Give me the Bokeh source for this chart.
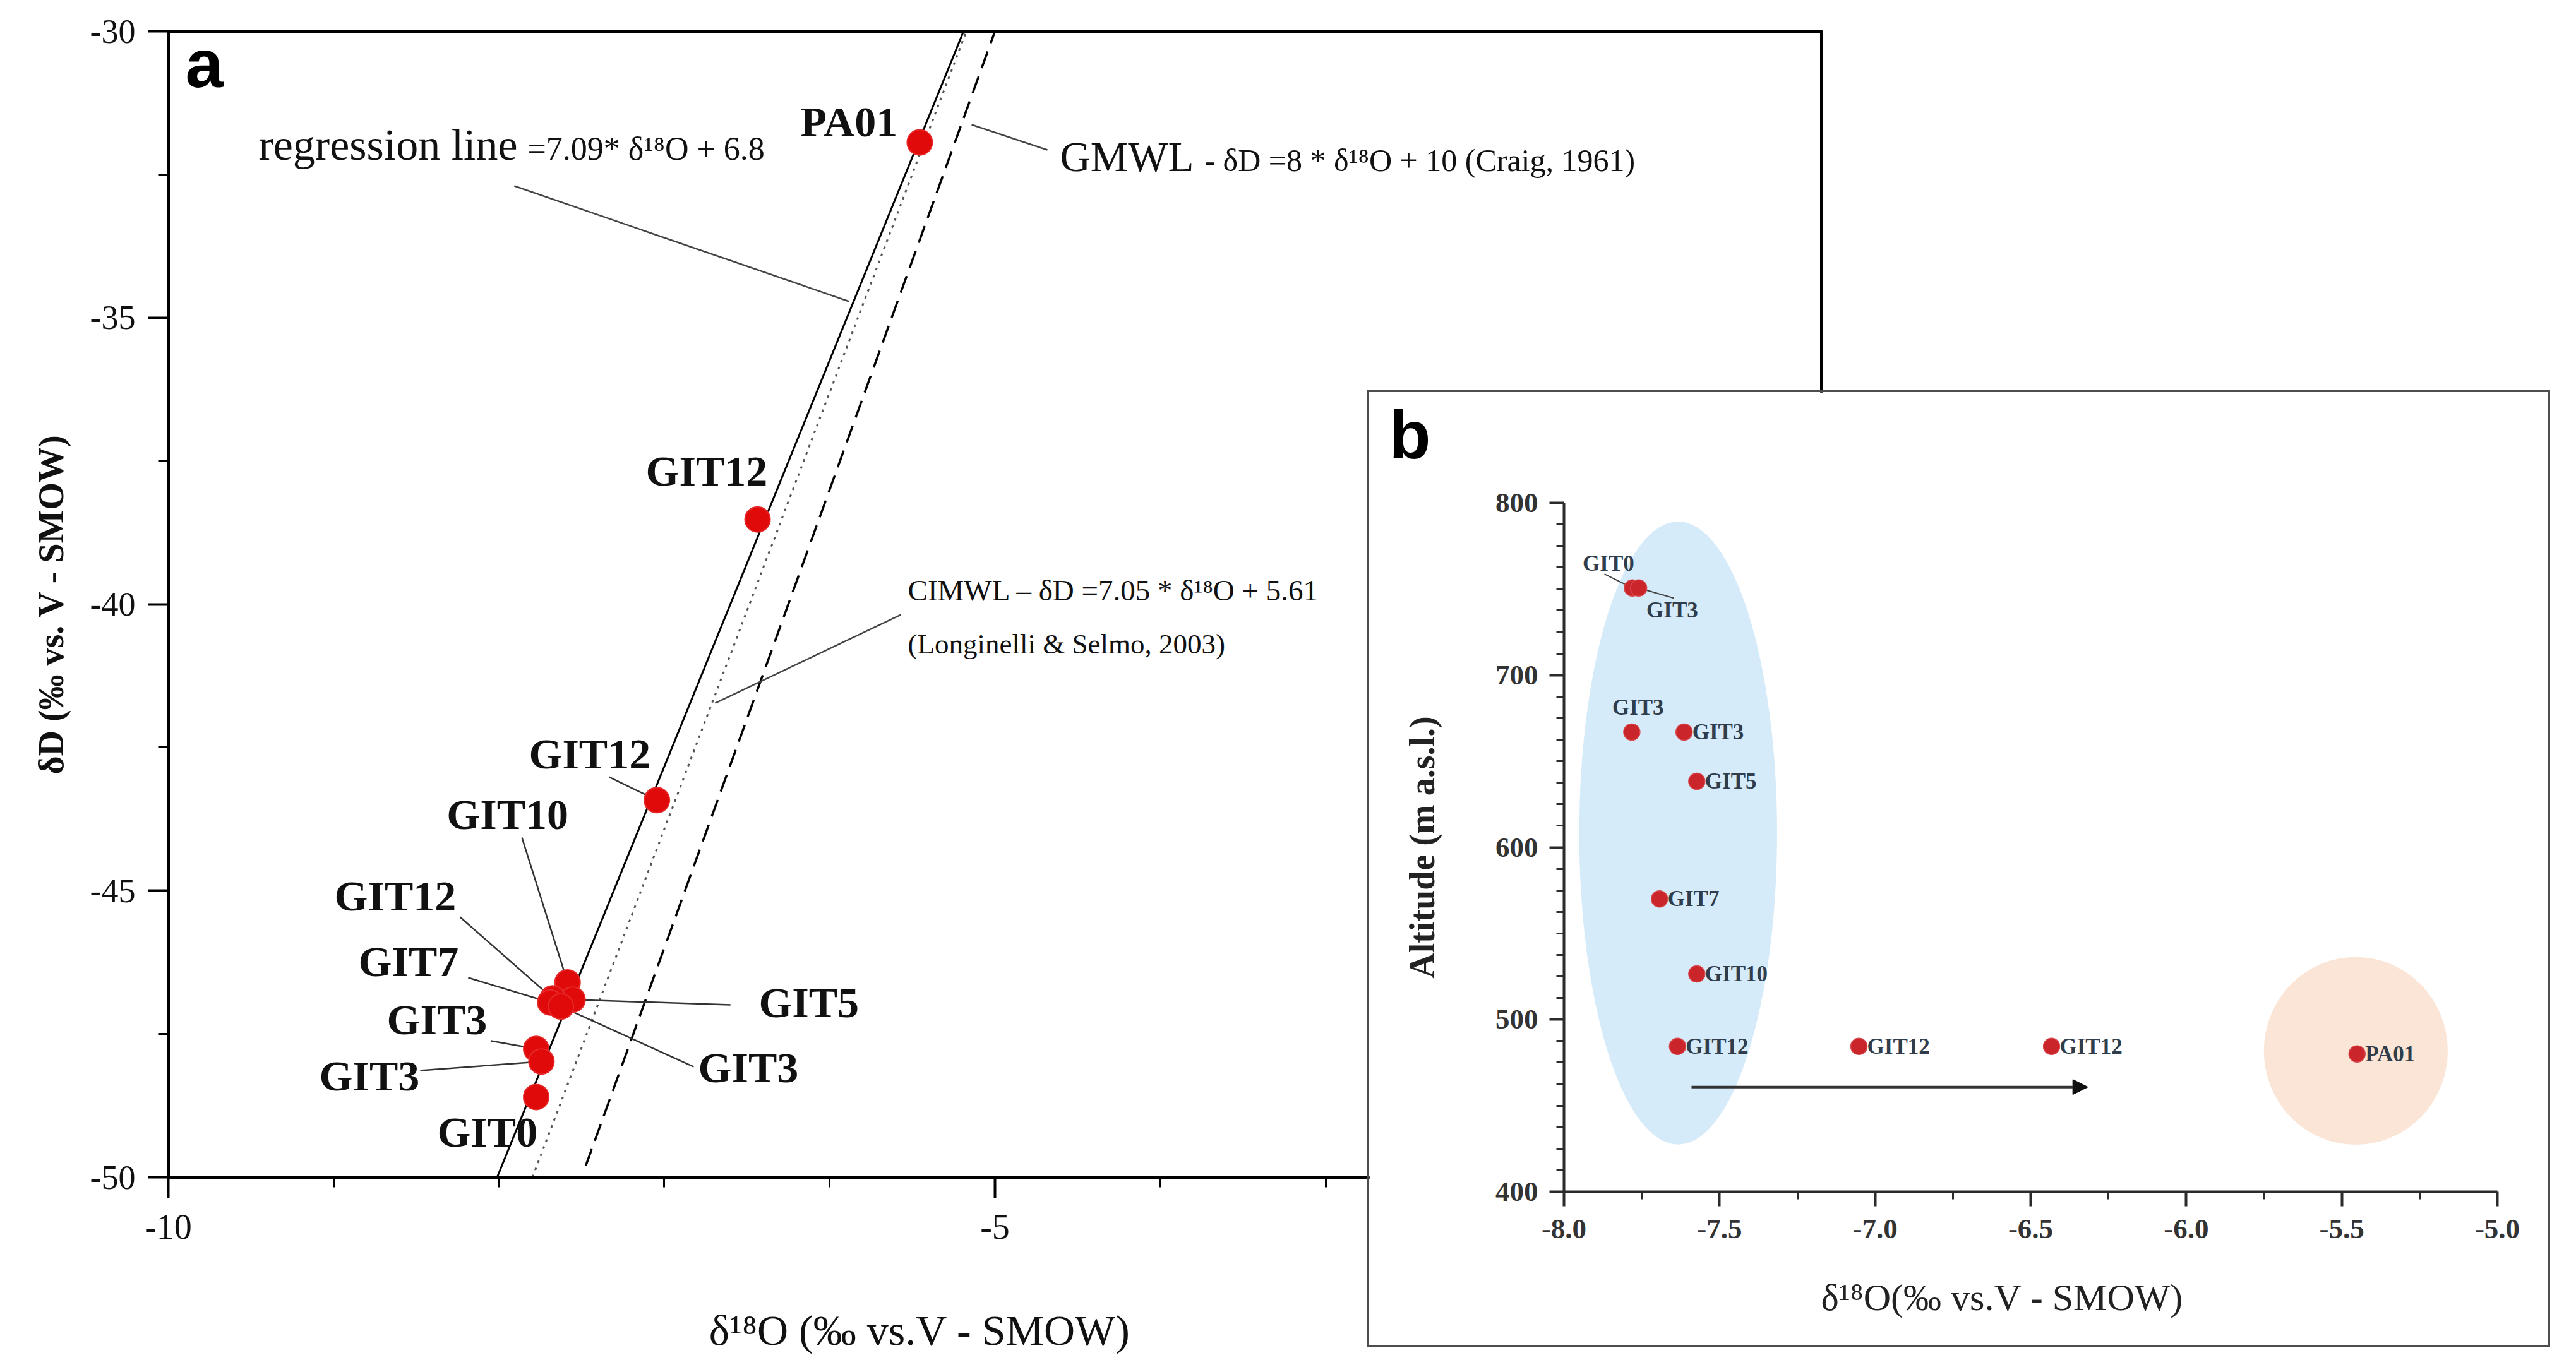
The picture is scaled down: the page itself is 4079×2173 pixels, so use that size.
import numpy as np
from bokeh.plotting import figure
from bokeh.models import FixedTicker, GridBox, Arrow, NormalHead, Range1d
from bokeh.core.properties import value
from bokeh.embed import file_html
from bokeh.resources import INLINE

SERIF = "Liberation Serif"
SANS = "Liberation Sans"
NBSP = "\u00a0"

# ---------------- Panel a data (dD vs d18O) ----------------
a_names = ["PA01", "GIT12", "GIT12", "GIT10", "GIT5", "GIT12", "GIT7", "GIT3", "GIT3", "GIT3", "GIT0"]
a_d18o = [-5.455, -6.436, -7.045, -7.585, -7.555, -7.675, -7.690, -7.625, -7.775, -7.743, -7.775]
a_dD = [-31.94, -38.52, -43.42, -46.60, -46.90, -46.88, -46.95, -47.02, -47.76, -47.98, -48.60]

# label anchors (left edge, text baseline; data units) and leader-line starts (None = no leader)
a_lab_x = [-6.176, -7.112, -7.819, -8.316, -6.429, -8.995, -8.850, -6.795, -8.678, -9.087, -8.373]
a_lab_base = [-31.829, -37.923, -42.860, -43.917, -47.201, -45.339, -46.485, -48.336, -47.499, -48.480, -49.460]
a_lead_x = [None, None, -7.334, -7.861, -6.600, -8.235, -8.186, -6.822, -8.048, -8.476, None]
a_lead_y = [None, None, -43.014, -44.072, -46.992, -45.460, -46.518, -48.072, -47.620, -48.138, None]

# meteoric water lines (end points)
reg_x = [-8.011, -5.190]
reg_y = [-50.0, -30.0]
cimwl_x = [-7.797, -5.173]
cimwl_y = [-50.0, -30.0]
gmwl_x = [-7.475, -5.000]
gmwl_y = [-49.8, -30.0]

a_xticks = [-10, -5, 0]
a_xtick_labels = ["-10", "-5", "0"]
a_xminor = [-9, -8, -7, -6, -4, -3, -2, -1]
a_yticks = [-50, -45, -40, -35, -30]
a_ytick_labels = ["-50", "-45", "-40", "-35", "-30"]
a_yminor = [-47.5, -42.5, -37.5, -32.5]

# ---------------- Panel b data (altitude vs d18O) ----------------
b_names = ["GIT0", "GIT3", "GIT3", "GIT3", "GIT5", "GIT7", "GIT10", "GIT12", "GIT12", "GIT12", "PA01"]
b_d18o = [-7.780, -7.760, -7.782, -7.614, -7.573, -7.693, -7.573, -7.635, -7.052, -6.433, -5.451]
b_alt = [750.6, 750.6, 666.9, 666.9, 638.3, 570.0, 526.5, 484.4, 484.4, 484.4, 480.0]

b_xticks = [-8.0, -7.5, -7.0, -6.5, -6.0, -5.5, -5.0]
b_xtick_labels = ["-8.0", "-7.5", "-7.0", "-6.5", "-6.0", "-5.5", "-5.0"]
b_xminor = [-7.75, -7.25, -6.75, -6.25, -5.75, -5.25]
b_yticks = [400, 500, 600, 700, 800]
b_ytick_labels = ["400", "500", "600", "700", "800"]
b_yminor = [v for v in np.arange(400, 800.1, 12.5).tolist() if v not in b_yticks]

groups_x = [-7.633, -5.455]
groups_y = [608.3, 481.8]
groups_w = [0.636, 0.591]
groups_h = [361.7, 109.0]
groups_color = ["#d6ebfa", "#fbe5d6"]

arrow_x = [-7.590, -6.316]
arrow_y = [460.8, 460.8]

# pixel scale of each frame (px per data unit), used to centre text on its cap height
A_PX_PER_Y = 1815 / 20.0
B_PX_PER_Y = 1085 / 400.0


def mid_a(base, fs):
    return [b + 0.335 * fs / A_PX_PER_Y for b in base]


def mid_b(base, fs):
    return [b + 0.335 * fs / B_PX_PER_Y for b in base]


def no_align(p):
    if "frame_align" in p.properties():
        p.frame_align = False


# ======================= Panel a =======================
pa = figure(width=2894, height=2170, frame_width=2618, frame_height=1815,
            x_range=Range1d(-10, 0), y_range=Range1d(-50, -30),
            output_backend="svg", toolbar_location=None, title=None,
            min_border_left=266, min_border_right=10, min_border_top=49, min_border_bottom=300)
no_align(pa)
pa.xgrid.visible = False
pa.ygrid.visible = False
pa.outline_line_color = "black"
pa.outline_line_width = 5
pa.background_fill_color = "white"
pa.border_fill_color = "white"

for ax in (pa.xaxis[0], pa.yaxis[0]):
    ax.axis_line_width = 5
    ax.axis_line_color = "black"
    ax.major_tick_line_width = 4
    ax.minor_tick_line_width = 3
    ax.major_tick_in = 0
    ax.minor_tick_in = 0
    ax.major_label_text_font = SERIF
    ax.major_label_text_color = "#111111"
    ax.axis_label_text_font = SERIF
    ax.axis_label_text_color = "#111111"

xa = pa.xaxis[0]
xa.ticker = FixedTicker(ticks=a_xticks, minor_ticks=a_xminor)
xa.major_label_overrides = {t: l for t, l in zip(a_xticks, a_xtick_labels)}
xa.major_tick_out = 33
xa.minor_tick_out = 16
xa.major_label_text_font_size = "56px"
xa.major_label_standoff = 26
# trailing no-break spaces shift the centred label left, as in the original
xa.axis_label = "δ¹⁸O (‰  vs.V - SMOW)" + NBSP * 13
xa.axis_label_text_font_size = "68px"
xa.axis_label_text_font_style = "normal"
xa.axis_label_standoff = 104

ya = pa.yaxis[0]
ya.ticker = FixedTicker(ticks=a_yticks, minor_ticks=a_yminor)
ya.major_label_overrides = {t: l for t, l in zip(a_yticks, a_ytick_labels)}
ya.major_tick_out = 32
ya.minor_tick_out = 16
ya.major_label_text_font_size = "54px"
ya.major_label_standoff = 20
ya.axis_label = "δD (‰ vs. V - SMOW)"
ya.axis_label_text_font_size = "56px"
ya.axis_label_text_font_style = "bold"
ya.axis_label_standoff = 28

# lines
pa.line(reg_x, reg_y, line_color="black", line_width=3)
pa.line(cimwl_x, cimwl_y, line_color="#555555", line_width=3, line_dash="4 8")
pa.line(gmwl_x, gmwl_y, line_color="black", line_width=3.5, line_dash="28 14")

# leader lines for the equations
pa.segment(x0=[-7.907, -5.141, -5.569], y0=[-32.700, -31.631, -40.182],
           x1=[-5.882, -4.683, -6.692], y1=[-34.716, -32.072, -41.725],
           line_color="#444444", line_width=2.5)

# leader lines for the sample labels
idx = [i for i in range(len(a_names)) if a_lead_x[i] is not None]
pa.segment(x0=[a_lead_x[i] for i in idx], y0=[a_lead_y[i] for i in idx],
           x1=[a_d18o[i] for i in idx], y1=[a_dD[i] for i in idx],
           line_color="#333333", line_width=2.5)

pa.scatter(a_d18o, a_dD, size=40, fill_color="#e00a0a", line_color="#e62a2a", line_width=2)

FS_LAB = 68
pa.text(x=a_lab_x, y=mid_a(a_lab_base, FS_LAB), text=a_names, text_font=value(SERIF),
        text_font_size=f"{FS_LAB}px", text_font_style="bold", text_align="left",
        text_baseline="middle", text_color="#111111")


def eq_text(x, base, txt, fs):
    pa.text(x=x, y=mid_a(base, fs), text=txt, text_font=value(SERIF), text_font_size=f"{fs}px",
            text_align="left", text_baseline="middle", text_color="#111111")


eq_text([-9.454], [-32.237], ["regression line"], 70)
eq_text([-7.827], [-32.237], ["=7.09* δ¹⁸O + 6.8"], 52)
eq_text([-4.607], [-32.435], ["GMWL"], 67)
eq_text([-3.732], [-32.435], ["- δD =8 * δ¹⁸O + 10 (Craig, 1961)"], 50)
eq_text([-5.527], [-39.928], ["CIMWL – δD =7.05 * δ¹⁸O + 5.61"], 47)
eq_text([-5.527], [-40.865], ["(Longinelli & Selmo, 2003)"], 45)

# panel letter "a"
pa.text(x=[-9.897], y=mid_a([-30.959], 108), text=["a"], text_font=value(SANS),
        text_font_size="108px", text_font_style="bold", text_align="left",
        text_baseline="middle", text_color="black")

# ======================= Panel b =======================
pb = figure(width=1867, height=1509, frame_width=1472, frame_height=1085,
            x_range=Range1d(-8, -5), y_range=Range1d(400, 800),
            output_backend="svg", toolbar_location=None, title=None,
            min_border_left=308, min_border_right=87, min_border_top=175, min_border_bottom=249)
no_align(pb)
pb.styles = {"border": "3px solid #4d4d4d"}
pb.xgrid.visible = False
pb.ygrid.visible = False
pb.outline_line_color = None
pb.background_fill_color = "white"
pb.border_fill_color = "white"

for ax in (pb.xaxis[0], pb.yaxis[0]):
    ax.axis_line_width = 4
    ax.axis_line_color = "#2b2b2b"
    ax.major_tick_line_width = 4
    ax.minor_tick_line_width = 3
    ax.major_tick_line_color = "#2b2b2b"
    ax.minor_tick_line_color = "#2b2b2b"
    ax.major_tick_in = 0
    ax.minor_tick_in = 0
    ax.major_tick_out = 23
    ax.minor_tick_out = 12
    ax.major_label_text_font = SERIF
    ax.major_label_text_font_style = "bold"
    ax.major_label_text_font_size = "45px"
    ax.major_label_text_color = "#333333"
    ax.axis_label_text_font = SERIF
    ax.axis_label_text_color = "#222222"

xb = pb.xaxis[0]
xb.ticker = FixedTicker(ticks=b_xticks, minor_ticks=b_xminor)
xb.major_label_overrides = {t: l for t, l in zip(b_xticks, b_xtick_labels)}
xb.major_label_standoff = 21
xb.axis_label = "δ¹⁸O(‰  vs.V - SMOW)" + NBSP * 5
xb.axis_label_text_font_size = "60px"
xb.axis_label_text_font_style = "normal"
xb.axis_label_standoff = 58

yb = pb.yaxis[0]
yb.ticker = FixedTicker(ticks=b_yticks, minor_ticks=b_yminor)
yb.major_label_overrides = {t: l for t, l in zip(b_yticks, b_ytick_labels)}
yb.major_label_standoff = 18
yb.axis_label = "Altitude (m a.s.l.)"
yb.axis_label_text_font_size = "56px"
yb.axis_label_text_font_style = "bold"
yb.axis_label_standoff = 82

pb.ellipse(x=groups_x, y=groups_y, width=groups_w, height=groups_h,
           fill_color=groups_color, line_color=None)

pb.add_layout(Arrow(end=NormalHead(size=24, fill_color="#111111", line_color="#111111"),
                    x_start=arrow_x[0], y_start=arrow_y[0], x_end=arrow_x[1], y_end=arrow_y[1],
                    line_width=4, line_color="#333333"))

# leader lines for the top pair
pb.segment(x0=[-7.870, -7.647], y0=[758.7, 744.7], x1=b_d18o[0:2], y1=b_alt[0:2],
           line_color="#444444", line_width=2)

pb.scatter(b_d18o, b_alt, size=26, fill_color="#c9252b", line_color="#d84a4e", line_width=1.5)

LAB_COLOR = "#2f3d4c"
FS_B = 35
pb.text(x=b_d18o[3:], y=b_alt[3:], text=b_names[3:], x_offset=13,
        text_font=value(SERIF), text_font_style="bold", text_font_size=f"{FS_B}px",
        text_align="left", text_baseline="middle", text_color=LAB_COLOR)
pb.text(x=[-7.857, -7.762], y=mid_b([760.6, 676.9], FS_B), text=[b_names[0], b_names[2]],
        text_font=value(SERIF), text_font_style="bold", text_font_size=f"{FS_B}px",
        text_align="center", text_baseline="middle", text_color=LAB_COLOR)
pb.text(x=[-7.735], y=mid_b([733.3], FS_B), text=[b_names[1]],
        text_font=value(SERIF), text_font_style="bold", text_font_size=f"{FS_B}px",
        text_align="left", text_baseline="middle", text_color=LAB_COLOR)

# ---------- panel letter "b": small transparent overlay in the top-left of panel b ----------
pl = figure(width=160, height=140, frame_width=160, frame_height=140,
            x_range=Range1d(0, 160), y_range=Range1d(0, 140),
            output_backend="svg", toolbar_location=None, title=None,
            x_axis_location=None, y_axis_location=None,
            min_border_left=0, min_border_right=0, min_border_top=0, min_border_bottom=0)
no_align(pl)
pl.grid.visible = False
pl.outline_line_color = None
pl.background_fill_alpha = 0
pl.border_fill_alpha = 0
pl.text(x=[34], y=[140 - 69.6], text=["b"], text_font=value(SANS), text_font_size="108px",
        text_font_style="bold", text_align="left", text_baseline="middle", text_color="black")

grid = GridBox(children=[(pa, 0, 0, 2, 2), (pb, 1, 1, 1, 1), (pl, 1, 1, 1, 1)],
               rows=["618px", "auto"], cols=["2165px", "auto"])

open("out.html", "w").write(file_html(grid, INLINE))
